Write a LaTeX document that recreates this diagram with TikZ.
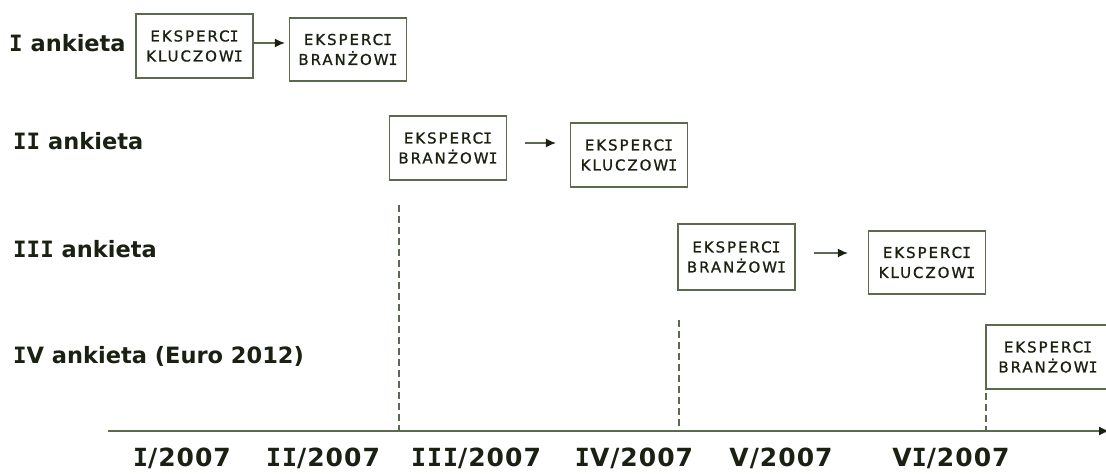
\documentclass[tikz,border=0pt]{standalone}
\usepackage{fontspec}
\setmainfont{DejaVu Sans}
\newfontfamily\boxfont[LetterSpace=13,FakeBold=1]{DejaVu Sans}
\newfontfamily\boxI[LetterSpace=13,FakeBold=1]{DejaVu Sans Mono}
\newfontfamily\labfont{DejaVu Sans Bold}
\newfontfamily\labI{DejaVu Sans Mono Bold}
\newfontfamily\axfont[LetterSpace=4]{DejaVu Sans Bold}
\newfontfamily\axI[LetterSpace=4]{DejaVu Sans Mono Bold}
\newcommand{\LI}{{\labI I}}
\newcommand{\AI}{{\axI I}}
\newcommand{\BI}{{\boxI I}}
\usetikzlibrary{arrows.meta}
\definecolor{lineC}{RGB}{92,104,80}
\definecolor{txtC}{RGB}{26,32,18}
\tikzset{
  box/.style={draw=lineC, line width=1.3pt, rectangle, inner sep=0pt,
     minimum width=117pt, minimum height=64pt, align=center,
     font=\boxfont\fontsize{15}{20}\selectfont, text=txtC},
  arr/.style={draw=lineC, line width=1.2pt, -{Latex[length=10pt,width=9pt,color=txtC]}},
  dashline/.style={draw=lineC, line width=1.1pt, dash pattern=on 7pt off 4pt},
  rowlab/.style={anchor=west, inner sep=0pt, font=\labfont\fontsize{22.5}{26}\selectfont, text=txtC},
  axlab/.style={anchor=center, inner sep=0pt, font=\axfont\fontsize{25}{28}\selectfont, text=txtC}
}
\begin{document}
\begin{tikzpicture}[x=1pt,y=-1pt]
\useasboundingbox (0,0) rectangle (1106,474);
% row labels
\node[rowlab] (l1) at (9,43) {\LI{} ankieta};
\node[rowlab] (l2) at (13,141) {\LI\LI{} ankieta};
\node[rowlab] (l3) at (13,249) {\LI\LI\LI{} ankieta};
\node[rowlab] (l4) at (13,356) {\LI V ankieta (Euro 2012)};
% boxes
\node[box] (b1) at (194.5,46) {EKSPERC\BI\\KLUCZOW\BI};
\node[box, minimum height=63pt] (b2) at (348,49.5) {EKSPERC\BI\\BRANŻOW\BI};
\node[box] (b3) at (448,148) {EKSPERC\BI\\BRANŻOW\BI};
\node[box] (b4) at (629,155) {EKSPERC\BI\\KLUCZOW\BI};
\node[box, minimum height=66pt] (b5) at (736.5,257) {EKSPERC\BI\\BRANŻOW\BI};
\node[box, minimum height=63pt] (b6) at (927,262.5) {EKSPERC\BI\\KLUCZOW\BI};
\node[box, minimum width=124pt, text width=117pt] (b7) at (1048,357) {EKSPERC\BI\\BRANŻOW\BI};
% arrows between boxes
\draw[arr, shorten >=4pt] ([yshift=3pt]b1.east) -- ([yshift=3pt]b1.east -| b2.west);
\draw[arr, shorten <=18pt, shorten >=14pt] ([yshift=5pt]b3.east) -- ([yshift=5pt]b3.east -| b4.west);
\draw[arr, shorten <=18pt, shorten >=20pt] ([yshift=4pt]b5.east) -- ([yshift=4pt]b5.east -| b6.west);
% axis
\coordinate (a0) at (108,431);
\coordinate (a1) at (1109,431);
\draw[arr] (a0) -- (a1);
\coordinate (t3) at (399,431);
\coordinate (t4) at (679,431);
\coordinate (t6) at (986,431);
\coordinate (d3) at (399,205);
\coordinate (d4) at (679,320);
\coordinate (d6) at (986,393);
\draw[dashline] (d3) -- (t3);
\draw[dashline] (d4) -- (t4);
\draw[dashline] (d6) -- (t6);
% axis labels
\node[axlab] (m1) at (182,458) {\AI/2007};
\node[axlab] (m2) at (323,458) {\AI\AI/2007};
\node[axlab] (m3) at (476,458) {\AI\AI\AI/2007};
\node[axlab] (m4) at (634,458) {\AI V/2007};
\node[axlab] (m5) at (781,458) {V/2007};
\node[axlab] (m6) at (951,458) {V\AI/2007};
\end{tikzpicture}
\end{document}
